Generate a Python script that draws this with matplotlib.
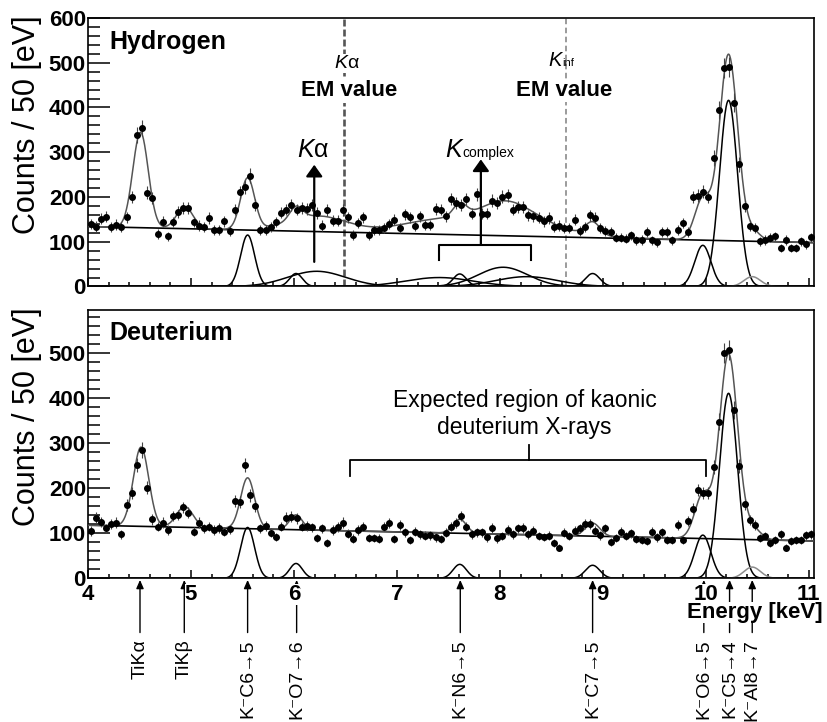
import numpy as np
import matplotlib
matplotlib.use("Agg")
import matplotlib.pyplot as plt
from matplotlib.ticker import MultipleLocator

plt.rcParams["font.family"] = ["Liberation Sans", "DejaVu Sans"]
plt.rcParams["mathtext.fontset"] = "custom"
plt.rcParams["mathtext.rm"] = "Liberation Sans"
plt.rcParams["mathtext.it"] = "Liberation Sans:italic"
plt.rcParams["mathtext.bf"] = "Liberation Sans:bold"
plt.rcParams["lines.scale_dashes"] = False

# ---- histograms: 50 eV bins starting at 4.00 keV ----
BIN_LO, BIN_W = 4.0, 0.05
H_COUNTS = [140, 134, 151, 156, 133, 138, 133, 155, 200, 338,
            354, 209, 198, 118, 145, 112, 144, 166, 175, 176,
            144, 136, 133, 153, 127, 127, 146, 123, 172, 211,
            222, 248, 183, 127, 127, 133, 144, 165, 172, 183,
            172, 176, 174, 183, 164, 136, 171, 147, 147, 171,
            155, 115, 142, 155, 114, 126, 127, 130, 140, 149,
            130, 161, 155, 135, 157, 137, 137, 174, 172, 157,
            196, 186, 183, 195, 163, 206, 163, 163, 192, 187,
            201, 204, 172, 177, 178, 159, 157, 154, 146, 153,
            134, 136, 131, 130, 149, 124, 133, 159, 154, 131,
            123, 122, 109, 109, 107, 114, 103, 104, 121, 103,
            99, 122, 122, 103, 127, 142, 122, 200, 203, 212,
            200, 287, 395, 488, 490, 411, 273, 180, 136, 131,
            101, 104, 109, 112, 86, 104, 86, 86, 101, 94,
            110]
D_COUNTS = [105, 135, 126, 111, 121, 124, 98, 163, 190, 252,
            285, 201, 131, 115, 124, 107, 138, 141, 158, 146,
            104, 124, 111, 115, 107, 112, 104, 109, 172, 169,
            252, 184, 161, 111, 116, 101, 92, 115, 135, 137,
            133, 115, 116, 113, 90, 111, 79, 107, 114, 124,
            99, 88, 107, 115, 90, 90, 88, 115, 122, 87,
            118, 102, 85, 104, 98, 95, 96, 91, 87, 101,
            115, 122, 138, 115, 98, 102, 102, 91, 112, 89,
            94, 107, 98, 111, 112, 98, 106, 94, 92, 95,
            79, 68, 101, 94, 106, 111, 121, 121, 106, 96,
            111, 81, 90, 104, 94, 100, 87, 85, 83, 104,
            91, 102, 85, 85, 118, 85, 128, 155, 196, 189,
            189, 248, 348, 500, 507, 374, 250, 164, 130, 118,
            90, 94, 79, 85, 98, 68, 83, 85, 85, 96,
            98]

# ---- fit results: linear background (at 4.00 / 11.05 keV) + gaussian lines ----
H_BG = [134, 98]
H_LINE_E = [4.51, 4.94, 5.55, 6.02, 6.22, 7.41, 7.61, 8.03, 8.26, 8.90, 9.97, 10.22, 10.45, 7.80]
H_LINE_A = [213, 49, 115, 29, 34, 20, 28, 43, 22, 29, 92, 416, 22, 16]
H_LINE_S = [0.075, 0.08, 0.068, 0.062, 0.28, 0.33, 0.065, 0.24, 0.30, 0.07, 0.078, 0.088, 0.08, 0.70]
H_DRAWN = [2, 3, 4, 5, 6, 7, 8, 9, 10, 11]
H_GREY = [12]

D_BG = [118, 83]
D_LINE_E = [4.515, 4.94, 5.55, 6.02, 7.61, 8.90, 9.97, 10.22, 10.45]
D_LINE_A = [176, 46, 113, 33, 31, 29, 96, 411, 25]
D_LINE_S = [0.075, 0.08, 0.068, 0.062, 0.065, 0.07, 0.078, 0.088, 0.08]
D_DRAWN = [2, 3, 4, 5, 6, 7]
D_GREY = [8]

# transition markers below the deuterium panel
MARK_E = [4.505, 4.935, 5.55, 6.026, 7.615, 8.90, 9.98, 10.23, 10.45]
MARK_LABEL = ["TiKα", "TiKβ", "K⁻C6→5", "K⁻O7→6", "K⁻N6→5",
              "K⁻C7→5", "K⁻O6→5", "K⁻C5→4", "K⁻Al8→7"]

XMAX = 11.05


def gauss(x, e, a, s):
    return a * np.exp(-0.5 * ((x - e) / s) ** 2)


def draw_panel(ax, counts, bg, le, la, ls, drawn, grey, ytop):
    y = np.array(counts, dtype=float)
    x = BIN_LO + BIN_W * (np.arange(len(y)) + 0.5)
    xf = np.linspace(BIN_LO, XMAX, 2000)
    base = bg[0] + (bg[1] - bg[0]) * (xf - BIN_LO) / (XMAX - BIN_LO)
    comps = [gauss(xf, e, a, s) for e, a, s in zip(le, la, ls)]
    for i in drawn:
        ax.plot(xf, comps[i], color="black", lw=1.1, zorder=2)
    for i in grey:
        ax.plot(xf, comps[i], color="#8c8c8c", lw=1.1, zorder=2)
    ax.plot(xf, base, color="black", lw=1.2, zorder=2)
    ax.plot(xf, base + np.sum(comps, axis=0), color="#555555", lw=1.1, zorder=3)
    ax.errorbar(x, y, yerr=np.sqrt(y), fmt="o", ms=4.0, color="black",
                ecolor="#444444", elinewidth=0.8, capsize=0, zorder=4)
    ax.set_xlim(BIN_LO, XMAX)
    ax.set_ylim(0, ytop)
    ax.xaxis.set_major_locator(MultipleLocator(1))
    ax.xaxis.set_minor_locator(MultipleLocator(0.2))
    ax.yaxis.set_major_locator(MultipleLocator(100))
    ax.yaxis.set_minor_locator(MultipleLocator(20))
    ax.tick_params(which="both", direction="in", top=False, right=False,
                   labelsize=16, width=1.1)
    ax.tick_params(axis="y", which="major", length=15.5, pad=1.5)
    ax.tick_params(axis="y", which="minor", length=8.5)
    ax.tick_params(axis="x", which="major", length=5.5, pad=4)
    ax.tick_params(axis="x", which="minor", length=2.8)
    for sp in ax.spines.values():
        sp.set_linewidth(1.2)
    ax.set_ylabel("Counts / 50 [eV]", fontsize=22, loc="top")
    ax.yaxis.set_label_coords(-0.064, 1.01)
    plt.setp(ax.get_yticklabels(), fontweight="bold")


fig = plt.figure(figsize=(8.27, 7.22), dpi=100)
ax1 = fig.add_axes([0.1064, 0.6032, 0.8779, 0.3719])
ax2 = fig.add_axes([0.1064, 0.1990, 0.8779, 0.3716])

draw_panel(ax1, H_COUNTS, H_BG, H_LINE_E, H_LINE_A, H_LINE_S, H_DRAWN, H_GREY, 600)
draw_panel(ax2, D_COUNTS, D_BG, D_LINE_E, D_LINE_A, D_LINE_S, D_DRAWN, D_GREY, 596)
ax1.tick_params(labelbottom=False)

# ---- hydrogen panel annotations ----
white = dict(facecolor="white", edgecolor="none", pad=1.0)
ax1.text(0.03, 0.91, "Hydrogen", transform=ax1.transAxes, fontsize=18,
         fontweight="bold", va="center", ha="left")
ax1.axvline(6.485, color="#555555", lw=1.9, dashes=(5, 2.2), zorder=1)
ax1.axvline(8.64, color="#8a8a8a", lw=1.2, dashes=(4, 2.5), zorder=1)
ax1.text(6.51, 488, r"$K$α", fontsize=14, ha="center", va="baseline", bbox=white, zorder=5)
ax1.text(6.54, 425, "EM value", fontsize=16, fontweight="bold", ha="center",
         va="baseline", bbox=white, zorder=5)
ax1.text(8.62, 492, r"$K$", fontsize=14.5, ha="right", va="baseline", bbox=white, zorder=5)
ax1.text(8.605, 492, "inf", fontsize=8, ha="left", va="baseline", zorder=6)
ax1.text(8.62, 426, "EM value", fontsize=16, fontweight="bold", ha="center",
         va="baseline", bbox=white, zorder=5)

arrow = dict(arrowstyle="-|>,head_length=0.35,head_width=0.25", color="black",
             lw=1.6, mutation_scale=20, shrinkA=0, shrinkB=0)
ax1.annotate("", xy=(6.197, 272), xytext=(6.197, 55), arrowprops=arrow, zorder=5)
ax1.text(6.19, 290, r"$K$α", fontsize=18, ha="center", va="baseline", zorder=5)
ax1.plot([7.41, 7.41, 8.30, 8.30], [59, 93, 93, 59], color="black", lw=1.5, zorder=5)
ax1.annotate("", xy=(7.815, 284), xytext=(7.815, 93), arrowprops=arrow, zorder=5)
ax1.text(7.66, 290, r"$K$", fontsize=18, ha="right", va="baseline", zorder=5)
ax1.text(7.635, 290, "complex", fontsize=10, ha="left", va="baseline", zorder=5)

# ---- deuterium panel annotations ----
ax2.text(0.03, 0.914, "Deuterium", transform=ax2.transAxes, fontsize=18,
         fontweight="bold", va="center", ha="left")
ax2.plot([6.545, 6.545, 10.0, 10.0], [227, 263, 263, 227], color="black", lw=1.3, zorder=5)
ax2.plot([8.28, 8.28], [263, 296], color="black", lw=1.3, zorder=5)
ax2.text(8.24, 365, "Expected region of kaonic\ndeuterium X-rays", fontsize=16.5,
         ha="center", va="center", linespacing=1.25, zorder=5)

plt.setp(ax2.get_xticklabels(), fontweight="bold")
for lab in ax2.get_xticklabels():
    lab.set_bbox(dict(facecolor="white", edgecolor="none", pad=0))
ax2.set_xlabel("Energy [keV]", fontsize=16, fontweight="bold", ha="right",
               bbox=dict(facecolor="white", edgecolor="none", pad=0))
ax2.xaxis.set_label_coords(1.0125, -0.09)

mark_arrow = dict(arrowstyle="-|>,head_length=0.5,head_width=0.22", color="black",
                  lw=1.0, mutation_scale=10, shrinkA=3, shrinkB=0)
for e, lab in zip(MARK_E, MARK_LABEL):
    ax2.annotate(lab, xy=(e, -0.006), xycoords=("data", "axes fraction"),
                 xytext=(e, -0.228), textcoords=("data", "axes fraction"),
                 rotation=90, ha="center", va="top", fontsize=14,
                 arrowprops=mark_arrow, annotation_clip=False, zorder=1)

fig.savefig("out.png", dpi=100)
